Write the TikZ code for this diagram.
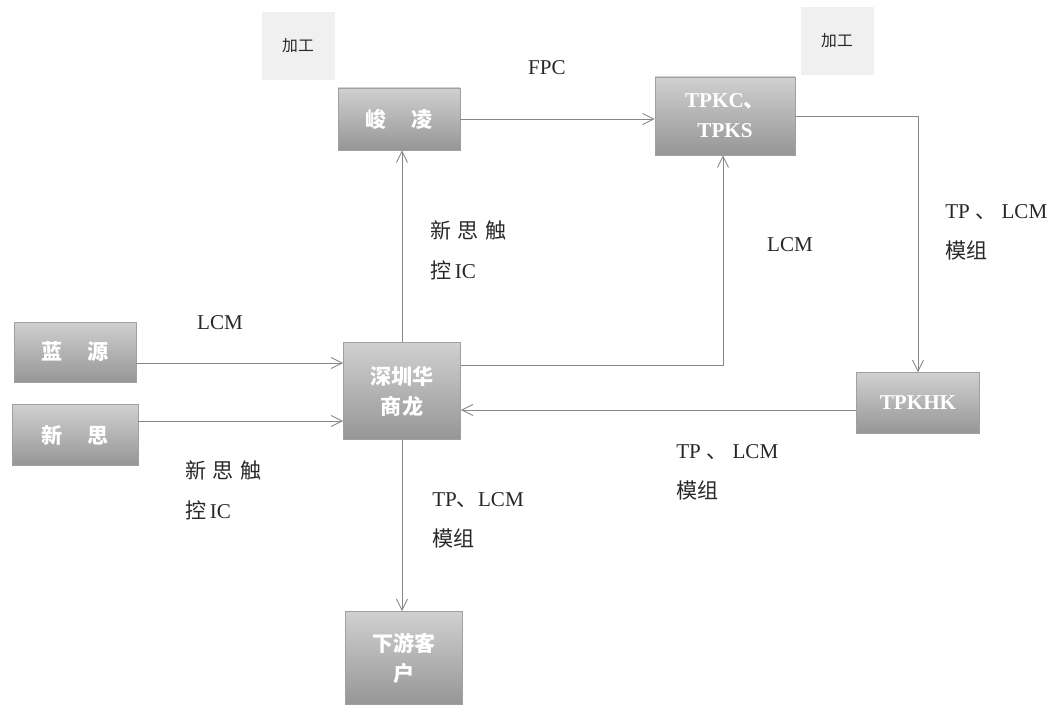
\documentclass[tikz,border=0pt]{standalone}
\usepackage{fontspec}
\setmainfont{Liberation Serif}
\newfontfamily\cjk{Noto Sans CJK SC}
\usetikzlibrary{arrows.meta,positioning}
\definecolor{SCline}{RGB}{135,135,135}
\definecolor{SCtop}{RGB}{208,208,208}
\definecolor{SCbot}{RGB}{150,150,150}
\definecolor{SCedge}{RGB}{160,160,160}
\definecolor{SCpale}{RGB}{240,240,240}
\definecolor{SCtext}{RGB}{40,40,40}
\tikzset{
  firm/.style={draw=SCedge,line width=0.5pt,top color=SCtop,bottom color=SCbot,
               text=white,align=center,inner sep=2pt,
               font=\fontsize{12}{17}\selectfont\bfseries},
  proc/.style={fill=SCpale,text=SCtext,minimum width=1.46cm,minimum height=1.36cm,
               font=\cjk\fontsize{9}{11}\selectfont},
  fl/.style={-{Straight Barb[length=2.2mm,width=2.2mm]},line width=0.5pt,draw=SCline},
  lbl/.style={text=SCtext,align=left,inner sep=0pt,
              font=\fontsize{12}{22.8}\selectfont}
}
\begin{document}
\begin{tikzpicture}
  \useasboundingbox (0,0) rectangle (21.1,14.22);
  % processing notes
  \node[proc] (proc1) at (5.96,13.30) {加工};
  \node[proc] (proc2) at (16.74,13.40) {加工};
  % companies
  \node[firm,minimum width=2.44cm,minimum height=1.24cm] (junling) at (7.98,11.84) {{\cjk 峻\hspace{1.2em}凌}};
  \node[firm,minimum width=2.8cm,minimum height=1.56cm] (tpkc) at (14.50,11.90) {TPKC{\cjk 、}\\TPKS};
  \node[firm,minimum width=2.44cm,minimum height=1.2cm] (lanyuan) at (1.50,7.18) {{\cjk 蓝\hspace{1.2em}源}};
  \node[firm,minimum width=2.52cm,minimum height=1.22cm] (xinsi) at (1.50,5.52) {{\cjk 新\hspace{1.2em}思}};
  \node[firm,minimum width=2.34cm,minimum height=1.94cm] (hsl) at (8.04,6.40) {{\cjk 深圳华}\\{\cjk 商龙}};
  \node[firm,minimum width=2.46cm,minimum height=1.22cm] (tpkhk) at (18.36,6.16) {TPKHK};
  \node[firm,minimum width=2.34cm,minimum height=1.86cm] (kehu) at (8.08,1.06) {{\cjk 下游客}\\{\cjk 户}};
  % flows
  \draw[fl] (junling.east) -- (junling.east -| tpkc.west);
  \draw[fl] ([yshift=-0.22cm]lanyuan.east) -- ([yshift=-0.22cm]lanyuan.east -| hsl.west);
  \draw[fl] ([yshift=0.28cm]xinsi.east) -- ([yshift=0.28cm]xinsi.east -| hsl.west);
  \draw[fl] (hsl.north) -- (hsl.north |- junling.south);
  \draw[fl] ([yshift=0.52cm]hsl.east) -| ([xshift=-0.04cm]tpkc.south);
  \draw[fl] (tpkc.east) -| (tpkhk.north);
  \draw[fl] ([yshift=-0.14cm]tpkhk.west) -- ([yshift=-0.14cm]tpkhk.west -| hsl.east);
  \draw[fl] (hsl.south) -- (hsl.south |- kehu.north);
  % flow labels
  \node[lbl] (fpc) at (10.94,12.86) {FPC};
  \node[lbl] (lcm1) at (4.40,7.76) {LCM};
  \node[lbl,anchor=west] (ic1) at (3.70,4.42) {{\cjk 新\hspace{0.3em}思\hspace{0.3em}触}\\{\cjk 控}\,IC};
  \node[lbl,anchor=west] (ic2) at (8.60,9.22) {{\cjk 新\hspace{0.3em}思\hspace{0.3em}触}\\{\cjk 控}\,IC};
  \node[lbl] (lcm2) at (15.80,9.32) {LCM};
  \node[lbl,anchor=west] (mod1) at (18.90,9.58) {TP {\cjk 、}\ LCM\\{\cjk 模组}};
  \node[lbl,anchor=west] (mod2) at (13.52,4.78) {TP {\cjk 、}\ LCM\\{\cjk 模组}};
  \node[lbl,anchor=west] (mod3) at (8.64,3.82) {TP{\cjk 、}LCM\\{\cjk 模组}};
\end{tikzpicture}
\end{document}
